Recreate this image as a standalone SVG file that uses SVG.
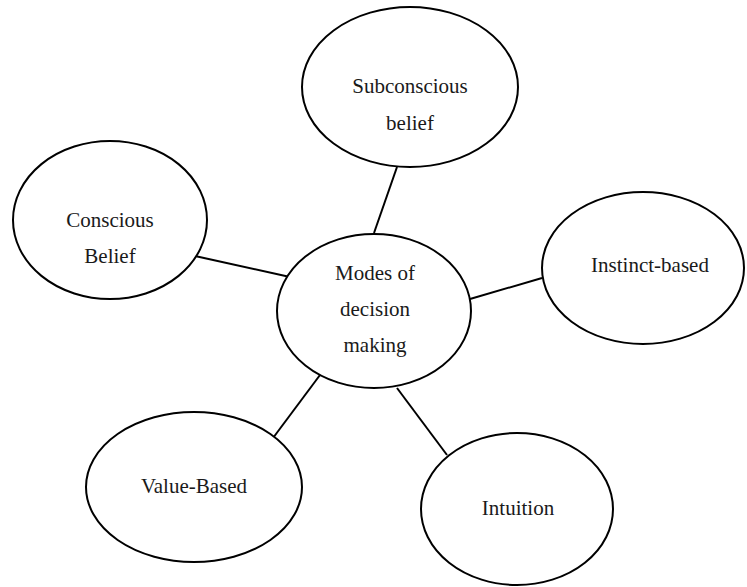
<svg xmlns="http://www.w3.org/2000/svg" width="747" height="587" viewBox="0 0 747 587">
<style>
.n ellipse{fill:#fff;stroke:#000;stroke-width:2}
.n text{font-family:"Liberation Serif","Times New Roman",serif;font-size:21px;fill:#1a1a1a;text-anchor:middle}
#connectors line{stroke:#000;stroke-width:2}
</style>
<rect width="747" height="587" fill="#fff"/>
<g id="connectors">
<line x1="397" y1="167" x2="374" y2="233"/>
<line x1="195" y1="256" x2="290" y2="277"/>
<line x1="470" y1="299" x2="542" y2="278"/>
<line x1="320" y1="375" x2="273" y2="438"/>
<line x1="397" y1="388" x2="447" y2="455"/>
</g>
<g id="center" class="n">
<ellipse cx="374" cy="311" rx="97" ry="77"/>
<text x="375" y="280">Modes of</text>
<text x="375" y="316">decision</text>
<text x="375" y="352">making</text>
</g>
<g id="subconscious" class="n">
<ellipse cx="410" cy="87" rx="108" ry="80"/>
<text x="410" y="93">Subconscious</text>
<text x="410" y="130">belief</text>
</g>
<g id="conscious" class="n">
<ellipse cx="110" cy="220" rx="97" ry="79"/>
<text x="110" y="227">Conscious</text>
<text x="110" y="263">Belief</text>
</g>
<g id="instinct" class="n">
<ellipse cx="643" cy="268" rx="101" ry="76"/>
<text x="650" y="272">Instinct-based</text>
</g>
<g id="value" class="n">
<ellipse cx="194" cy="487" rx="108" ry="75"/>
<text x="194" y="493">Value-Based</text>
</g>
<g id="intuition" class="n">
<ellipse cx="517" cy="509" rx="96" ry="76"/>
<text x="518" y="515">Intuition</text>
</g>
</svg>
